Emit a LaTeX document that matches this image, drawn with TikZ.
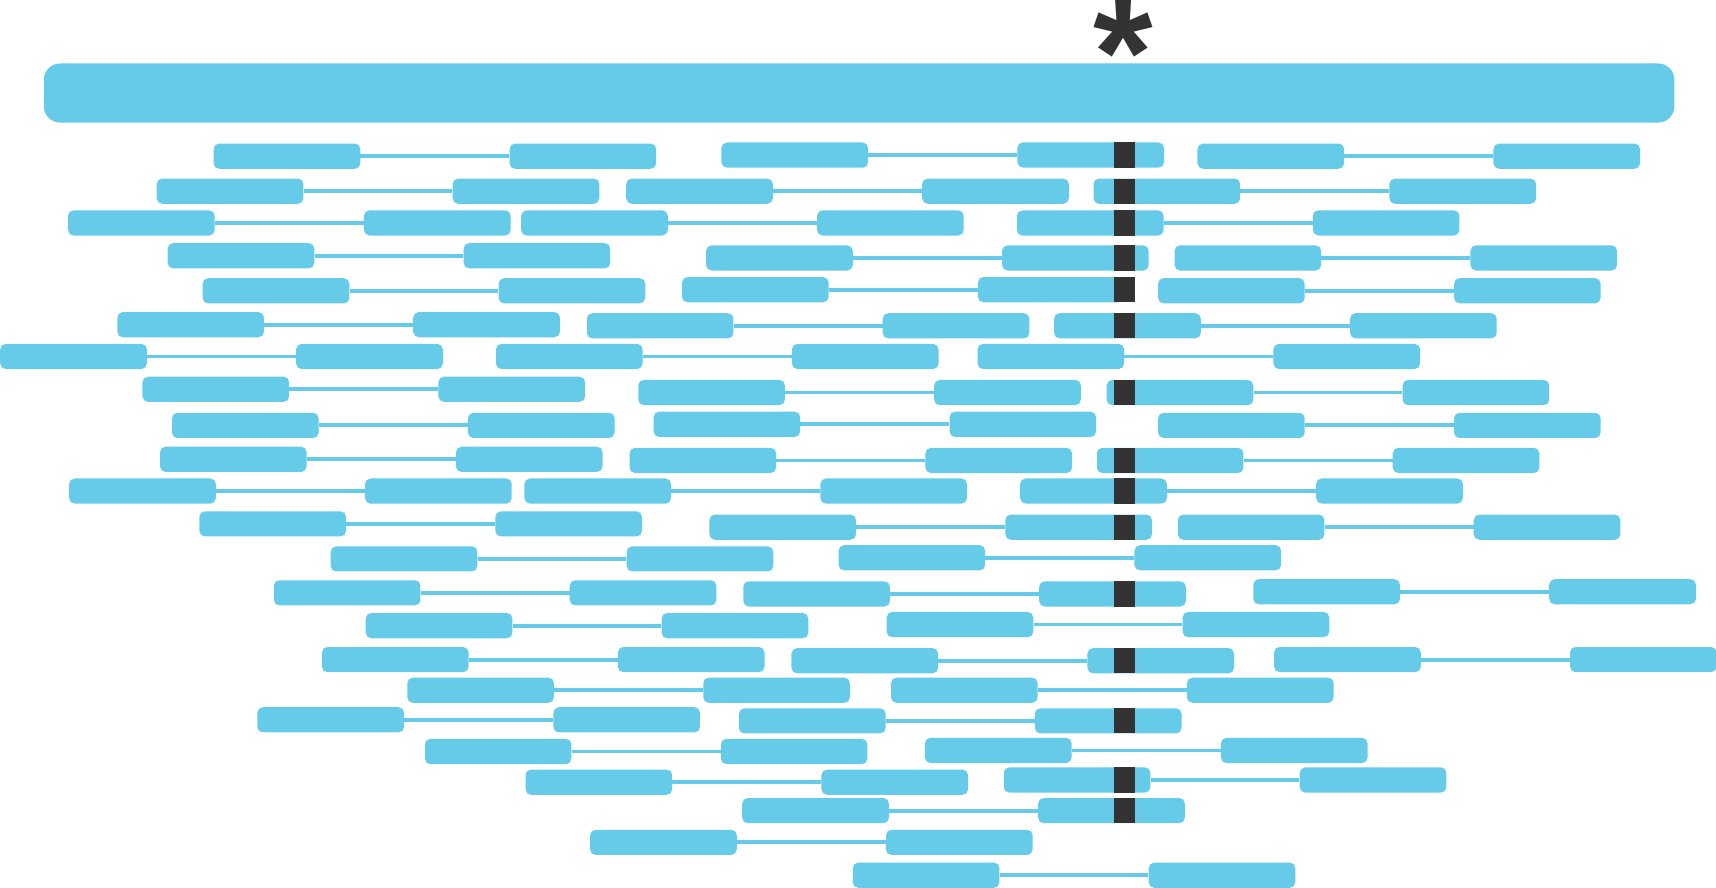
\documentclass[tikz,border=0pt]{standalone}
\usepackage{fontspec}
\usepackage{tikz}
\usetikzlibrary{positioning}
\definecolor{pillblue}{HTML}{66CBE8}
\definecolor{inkgrey}{HTML}{333333}
\newfontfamily\starfont{Liberation Sans}

\begin{document}
\begin{tikzpicture}[x=1pt, y=-1pt, node distance=136pt,
    pill/.style={rectangle, rounded corners=5pt, fill=pillblue, minimum width=134pt, minimum height=23pt, inner sep=0pt},
    link/.style={draw=pillblue, line width=3.5pt},
    darkbar/.style={rectangle, fill=inkgrey, minimum width=19pt, minimum height=23pt, inner sep=0pt}]
    \useasboundingbox (0,0) rectangle (1568,811);
    \clip (0,0) rectangle (1568,811);

    % marker and banner
    \node[font=\starfont\bfseries\fontsize{140}{140}\selectfont, text=inkgrey, inner sep=0pt, anchor=base] (star) at (1026,96) {*};
    \node[pill, rounded corners=15pt, minimum width=1490pt, minimum height=54pt] (banner) at (785,85) {};

    % pairs: left pill placed, right pill to its right
    \foreach \id/\x/\y in {a1/195/131, a2/143/163, a3/62/192, a4/153/222, a5/185/254, a6/107/285,
        a7/0/314, a8/130/344, a9/157/377, a10/146/408, a11/63/437, a12/182/467, a13/302/499,
        a14/250/530, a15/334/560, a16/294/591, a17/372/619, a18/235/646, a19/388/675,
        a20/480/703, a21/539/758, a22/779/788,
        b1/659/130, b2/572/163, b3/476/192, b4/645/224, b5/623/253, b6/536/286, b7/453/314,
        b8/583/347, b9/597/376, b10/575/409, b11/479/437, b12/648/470, b13/766/498,
        b14/679/531, b15/810/559, b16/723/592, b17/814/619, b18/675/647, b19/845/674,
        b20/678/729,
        c1/1094/131, c2/999/163, c3/929/192, c4/1073/224, c5/1058/254, c6/963/286,
        c7/893/314, c8/1011/347, c9/1058/377, c10/1002/409, c11/932/437, c12/1076/470,
        c13/1145/529, c14/1164/591, c15/917/701} {
        \node[pill, anchor=north west] (\id l) at (\x,\y) {};
        \node[pill, right=of \id l] (\id r) {};
        \draw[link] (\id l) -- (\id r);
    }

    % dark marks on one column
    \coordinate (barx) at (1027.5,0);
    \foreach \pl in {b1r, c2l, c3l, b4r, b5r, c6l, c8l, c10l, c11l, b12r, b14r, b16r, b18r, c15l, b20r}
        \node[darkbar] at (barx |- \pl) {};
\end{tikzpicture}
\end{document}
